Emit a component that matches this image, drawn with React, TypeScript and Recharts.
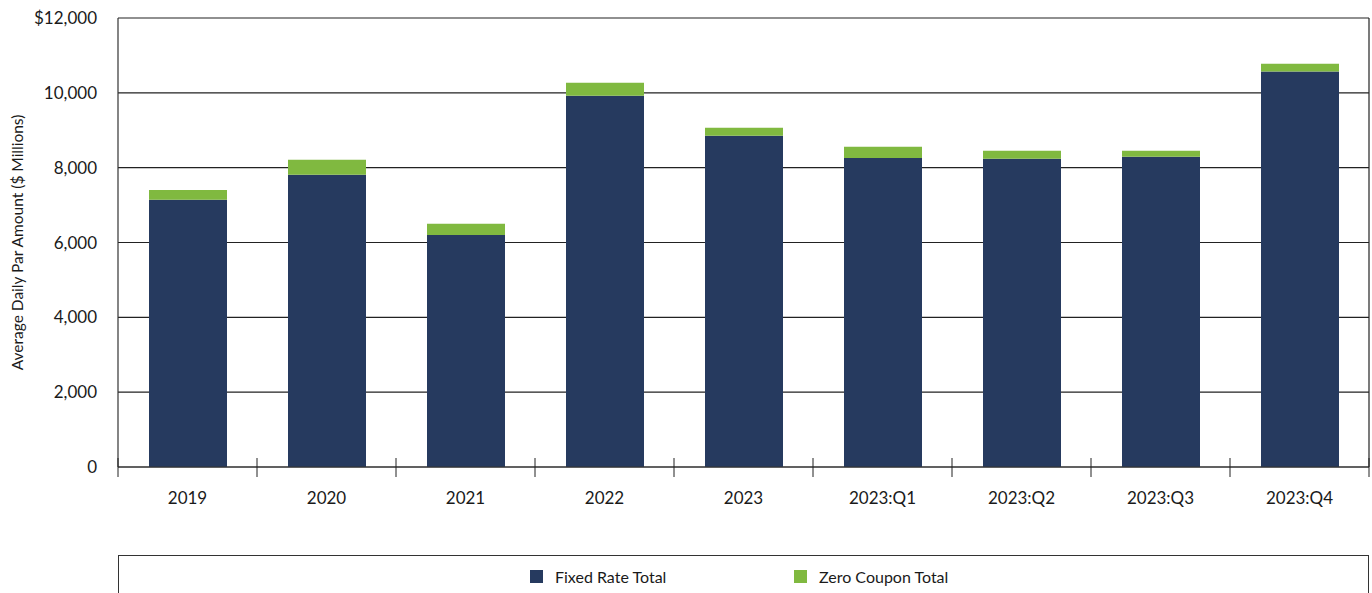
import React from 'react';
import { BarChart, Bar, XAxis, YAxis, CartesianGrid } from 'recharts';

const categories = ['2019', '2020', '2021', '2022', '2023', '2023:Q1', '2023:Q2', '2023:Q3', '2023:Q4'];
const fixedRate = [7140, 7810, 6200, 9920, 8850, 8260, 8240, 8290, 10570];
const zeroCoupon = [265, 400, 300, 350, 220, 300, 210, 160, 210];
const yTicks = [0, 2000, 4000, 6000, 8000, 10000, 12000];
const seriesNames = ['Fixed Rate Total', 'Zero Coupon Total'];

const NAVY = '#263A5F';
const GREEN = '#80B940';
const FONT = 'Lato, "Open Sans", sans-serif';

const W = 1372;
const H = 593;
const PLOT_LEFT = 118;
const PLOT_RIGHT = 1369;
const BAND = (PLOT_RIGHT - PLOT_LEFT) / categories.length;

const data = categories.map((name, i) => ({
  name,
  fixed: fixedRate[i],
  zero: zeroCoupon[i],
}));

const fmtY = (v: number) => (v === 12000 ? '$' : '') + v.toLocaleString('en-US');

// category ticks sit between bars, label in the middle
function XTick(props: any) {
  const { x, y, payload } = props;
  const last = payload.value === categories[categories.length - 1];
  return (
    <g>
      <line x1={x - BAND / 2} x2={x - BAND / 2} y1={y - 9} y2={y + 10} stroke="#222" strokeWidth={1} />
      {last && <line x1={x + BAND / 2} x2={x + BAND / 2} y1={y - 9} y2={y + 10} stroke="#222" strokeWidth={1} />}
      <text x={x} y={y + 37} textAnchor="middle" fontFamily={FONT} fontSize={17} fill="#1a1a1a">
        {payload.value}
      </text>
    </g>
  );
}

export default function App() {
  return (
    <div style={{ position: 'absolute', left: 0, top: 0, width: W, height: H, background: '#fff', fontFamily: FONT }}>
      <BarChart
        width={W}
        height={H}
        data={data}
        margin={{ top: 18, right: W - PLOT_RIGHT, bottom: 66, left: 0 }}
      >
        <CartesianGrid
          stroke="#222"
          strokeWidth={1.2}
          vertical={true}
          verticalCoordinatesGenerator={(p: any) => [p.offset.left + p.offset.width]}
        />
        <XAxis
          dataKey="name"
          height={60}
          tickSize={0}
          tickMargin={0}
          tickLine={false}
          axisLine={{ stroke: '#333', strokeWidth: 1.2 }}
          tick={<XTick />}
          interval={0}
        />
        <YAxis
          width={PLOT_LEFT}
          domain={[0, 12000]}
          ticks={yTicks}
          tickFormatter={fmtY}
          tickLine={false}
          tickSize={6}
          tickMargin={15}
          axisLine={{ stroke: '#333', strokeWidth: 1.2 }}
          tick={{ fontFamily: FONT, fontSize: 17, fill: '#1a1a1a' }}
          label={{
            value: 'Average Daily Par Amount ($ Millions)',
            angle: -90,
            position: 'insideLeft',
            offset: 17,
            style: { textAnchor: 'middle', fontFamily: FONT, fontSize: 15.5, fill: '#1a1a1a' },
          }}
        />
        <Bar dataKey="fixed" name={seriesNames[0]} stackId="a" fill={NAVY} barSize={78} isAnimationActive={false} />
        <Bar dataKey="zero" name={seriesNames[1]} stackId="a" fill={GREEN} barSize={78} isAnimationActive={false} />
      </BarChart>
      <div
        style={{
          position: 'absolute',
          left: PLOT_LEFT,
          top: 555,
          width: PLOT_RIGHT - PLOT_LEFT,
          height: 50,
          border: '1px solid #333',
          boxSizing: 'border-box',
        }}
      >
        {seriesNames.map((s, i) => (
          <div
            key={s}
            style={{
              position: 'absolute',
              left: (i === 0 ? 530 : 794) - PLOT_LEFT - 1,
              top: 11,
              display: 'flex',
              alignItems: 'center',
              fontSize: 16,
              color: '#1a1a1a',
            }}
          >
            <span style={{ display: 'inline-block', width: 13, height: 13, background: i === 0 ? NAVY : GREEN, marginRight: 12 }} />
            <span>{s}</span>
          </div>
        ))}
      </div>
    </div>
  );
}
